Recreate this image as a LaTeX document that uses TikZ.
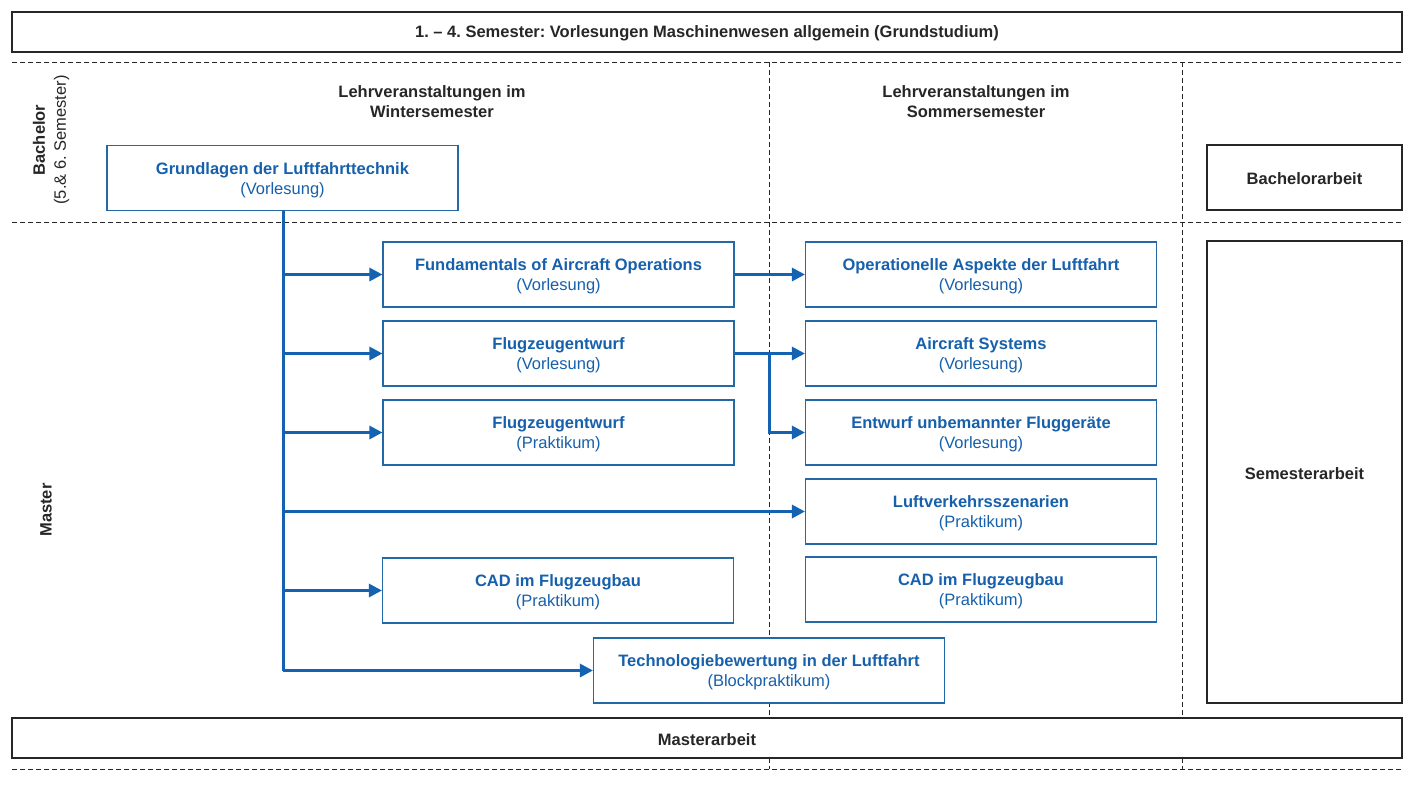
\documentclass[tikz,border=0pt]{standalone}
\usepackage{fontspec}
\setmainfont{Liberation Sans}
\usetikzlibrary{arrows.meta}
\definecolor{tblue}{RGB}{22,96,172}
\definecolor{bblue}{RGB}{36,104,168}
\definecolor{ablue}{RGB}{20,98,178}
\definecolor{dgray}{RGB}{38,38,38}
\frenchspacing
\begin{document}
\begin{tikzpicture}[x=1pt,y=-1pt,
  grid/.style={draw=dgray,line width=0.9pt,dash pattern=on 5pt off 3pt},
  course/.style={draw=bblue,line width=1.1pt,fill=white,minimum width=#1,minimum height=65pt,inner sep=0pt,align=center,font=\fontsize{16.5}{20}\selectfont,text=tblue,text height=36pt,text depth=4pt},
  course/.default=351pt,
  blackbox/.style={draw=dgray,line width=1.1pt,fill=white,inner sep=0pt,align=center,font=\bfseries\fontsize{16.5}{20}\selectfont,text=dgray,execute at begin node={\rule{0pt}{15pt}}},
  hdr/.style={align=center,font=\bfseries\fontsize{16.5}{20}\selectfont,text=dgray},
  link/.style={draw=ablue,line width=3pt,-{Triangle[length=13pt,width=13pt]}},
  trunk/.style={draw=ablue,line width=3pt}]
\useasboundingbox (0,0) rectangle (1414,807);
% dashed grid
\draw[grid] (12,62) -- (1402,62);
\draw[grid] (12,222) -- (1402,222);
\draw[grid] (12,769) -- (1402,769);
\draw[grid] (769,62) -- (769,769);
\draw[grid] (1182,62) -- (1182,769);
% black boxes
\node[blackbox,minimum width=1390pt,minimum height=40pt] (grund) at (707,32) {1. – 4. Semester: Vorlesungen Maschinenwesen allgemein (Grundstudium)};
\node[blackbox,minimum width=1390pt,minimum height=40pt] (master) at (707,738) {Masterarbeit};
\node[blackbox,minimum width=195pt,minimum height=65pt] (ba) at (1304.5,177.5) {Bachelorarbeit};
\node[blackbox,minimum width=195pt,minimum height=462pt] (sa) at (1304.5,472) {Semesterarbeit};
% headers
\node[hdr] (hw) at (432,101.5) {Lehrveranstaltungen im\\Wintersemester};
\node[hdr] (hs) at (976,101.5) {Lehrveranstaltungen im\\Sommersemester};
\node[rotate=90,align=center,font=\fontsize{16.5}{21}\selectfont,text=dgray] (bach) at (51,140) {\textbf{Bachelor}\\(5.\& 6. Semester)};
\node[rotate=90,font=\bfseries\fontsize{16.5}{20}\selectfont,text=dgray] (mast) at (46,510) {Master};
% courses
\node[course] (gl) at (282.5,178) {\textbf{Grundlagen der Luftfahrttechnik}\\(Vorlesung)};
\node[course] (fao) at (558.5,274.5) {\textbf{Fundamentals of Aircraft Operations}\\(Vorlesung)};
\node[course] (fev) at (558.5,353.5) {\textbf{Flugzeugentwurf}\\(Vorlesung)};
\node[course] (fep) at (558.5,432.5) {\textbf{Flugzeugentwurf}\\(Praktikum)};
\node[course] (cadw) at (558,590.5) {\textbf{CAD im Flugzeugbau}\\(Praktikum)};
\node[course] (tb) at (769,670.5) {\textbf{Technologiebewertung in der Luftfahrt}\\(Blockpraktikum)};
\node[course] (oal) at (981,274.5) {\textbf{Operationelle Aspekte der Luftfahrt}\\(Vorlesung)};
\node[course] (as) at (981,353.5) {\textbf{Aircraft Systems}\\(Vorlesung)};
\node[course] (euf) at (981,432.5) {\textbf{Entwurf unbemannter Fluggeräte}\\(Vorlesung)};
\node[course] (lvs) at (981,511.5) {\textbf{Luftverkehrsszenarien}\\(Praktikum)};
\node[course] (cads) at (981,589.5) {\textbf{CAD im Flugzeugbau}\\(Praktikum)};
% connectors
\coordinate (tend) at (283,670.5);
\draw[trunk] (gl.south -| tend) -- (tend);
\draw[link] (tend |- fao.west) -- (fao.west);
\draw[link] (tend |- fev.west) -- (fev.west);
\draw[link] (tend |- fep.west) -- (fep.west);
\draw[link] (tend |- lvs.west) -- (lvs.west);
\draw[link] (tend |- cadw.west) -- (cadw.west);
\draw[link] (tend) -- (tb.west);
\draw[link] (fao.east) -- (oal.west);
\draw[link] (fev.east) -- (as.west);
\coordinate (split) at (769,353.5);
\draw[link] (split) |- (euf.west);
\end{tikzpicture}
\end{document}
